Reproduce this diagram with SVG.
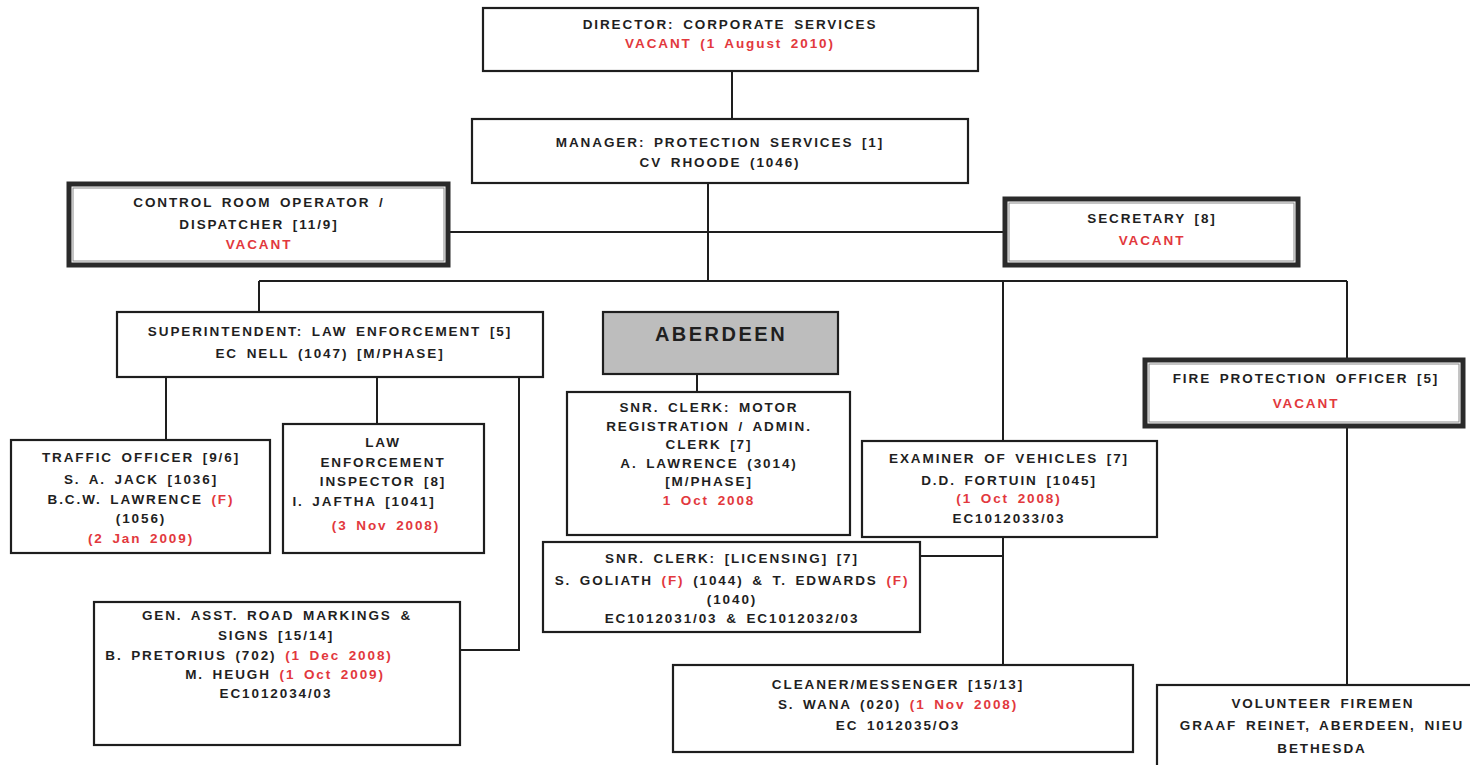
<svg xmlns="http://www.w3.org/2000/svg" width="1470" height="765" viewBox="0 0 1470 765">
  <style>
    .box { fill: #ffffff; stroke: #1e1e1e; stroke-width: 2.2; }
    .heavy { fill: #ffffff; stroke: #2a2a2a; stroke-width: 5; }
    .heavy-in { fill: none; stroke: #8a8a8a; stroke-width: 1; }
    .shade { fill: #bdbdbd; stroke: #1e1e1e; stroke-width: 2.2; }
    .link { fill: none; stroke: #1e1e1e; stroke-width: 2; }
    text { font-family: "Liberation Sans", Arial, sans-serif; font-weight: bold; font-size: 13.5px; fill: #1f1f1f; text-anchor: middle; letter-spacing: 1.9px; word-spacing: 3px; }
    .red { fill: #e2383d; }
    .big { font-size: 20px; letter-spacing: 2.5px; }
  </style>

  <!-- connectors -->
  <g id="connectors">
    <line class="link" x1="732" y1="71" x2="732" y2="119"/>
    <line class="link" x1="708" y1="183" x2="708" y2="281"/>
    <line class="link" x1="450" y1="232" x2="1003" y2="232"/>
    <line class="link" x1="259" y1="281" x2="1347" y2="281"/>
    <line class="link" x1="259" y1="281" x2="259" y2="312"/>
    <line class="link" x1="1003" y1="281" x2="1003" y2="441"/>
    <line class="link" x1="1003" y1="537" x2="1003" y2="665"/>
    <line class="link" x1="920" y1="556" x2="1003" y2="556"/>
    <line class="link" x1="1347" y1="281" x2="1347" y2="358"/>
    <line class="link" x1="1347" y1="428" x2="1347" y2="685"/>
    <line class="link" x1="166" y1="377" x2="166" y2="440"/>
    <line class="link" x1="377" y1="377" x2="377" y2="424"/>
    <polyline class="link" points="519,377 519,650 460,650"/>
    <line class="link" x1="697" y1="374" x2="697" y2="392"/>
  </g>

  <g id="director">
    <rect class="box" x="483" y="8" width="495" height="63"/>
    <text x="730" y="29">DIRECTOR:  CORPORATE  SERVICES</text>
    <text x="730" y="48" class="red">VACANT (1 August 2010)</text>
  </g>

  <g id="manager">
    <rect class="box" x="472" y="119" width="496" height="64"/>
    <text x="720" y="147">MANAGER:  PROTECTION  SERVICES [1]</text>
    <text x="720" y="167">CV RHOODE  (1046)</text>
  </g>

  <g id="control-room">
    <rect class="heavy" x="69" y="184" width="379" height="81"/>
    <rect class="heavy-in" x="73" y="188" width="371" height="73"/>
    <text x="259" y="207">CONTROL  ROOM OPERATOR  /</text>
    <text x="259" y="229">DISPATCHER  [11/9]</text>
    <text x="259" y="249" class="red">VACANT</text>
  </g>

  <g id="secretary">
    <rect class="heavy" x="1005" y="199" width="293" height="66"/>
    <rect class="heavy-in" x="1009" y="203" width="285" height="58"/>
    <text x="1152" y="223">SECRETARY  [8]</text>
    <text x="1152" y="245" class="red">VACANT</text>
  </g>

  <g id="superintendent">
    <rect class="box" x="117" y="312" width="426" height="65"/>
    <text x="330" y="336">SUPERINTENDENT:  LAW  ENFORCEMENT  [5]</text>
    <text x="330" y="358">EC NELL  (1047) [M/PHASE]</text>
  </g>

  <g id="aberdeen">
    <rect class="shade" x="603" y="312" width="235" height="62"/>
    <text x="721" y="341" class="big">ABERDEEN</text>
  </g>

  <g id="fire-protection">
    <rect class="heavy" x="1145" y="360" width="318" height="66"/>
    <rect class="heavy-in" x="1149" y="364" width="310" height="58"/>
    <text x="1306" y="383">FIRE  PROTECTION  OFFICER  [5]</text>
    <text x="1306" y="408" class="red">VACANT</text>
  </g>

  <g id="traffic-officer">
    <rect class="box" x="11" y="440" width="259" height="113"/>
    <text x="141" y="462">TRAFFIC  OFFICER  [9/6]</text>
    <text x="141" y="484">S. A. JACK [1036]</text>
    <text x="141" y="504">B.C.W. LAWRENCE  <tspan class="red">(F)</tspan></text>
    <text x="141" y="523">(1056)</text>
    <text x="141" y="543" class="red">(2 Jan  2009)</text>
  </g>

  <g id="law-inspector">
    <rect class="box" x="283" y="424" width="201" height="129"/>
    <text x="383" y="447">LAW</text>
    <text x="383" y="467">ENFORCEMENT</text>
    <text x="383" y="486">INSPECTOR  [8]</text>
    <text x="364" y="506">I. JAFTHA  [1041]</text>
    <text x="386" y="530" class="red">(3 Nov 2008)</text>
  </g>

  <g id="snr-clerk-motor">
    <rect class="box" x="567" y="392" width="283" height="143"/>
    <text x="709" y="412">SNR. CLERK:  MOTOR</text>
    <text x="709" y="431">REGISTRATION  / ADMIN.</text>
    <text x="709" y="449">CLERK  [7]</text>
    <text x="709" y="468">A. LAWRENCE  (3014)</text>
    <text x="709" y="486">[M/PHASE]</text>
    <text x="709" y="505" class="red">1 Oct 2008</text>
  </g>

  <g id="examiner">
    <rect class="box" x="862" y="441" width="295" height="96"/>
    <text x="1009" y="463">EXAMINER  OF VEHICLES  [7]</text>
    <text x="1009" y="485">D.D. FORTUIN  [1045]</text>
    <text x="1009" y="503" class="red">(1 Oct 2008)</text>
    <text x="1009" y="523">EC1012033/03</text>
  </g>

  <g id="snr-clerk-licensing">
    <rect class="box" x="543" y="542" width="377" height="90"/>
    <text x="732" y="563">SNR. CLERK:  [LICENSING]  [7]</text>
    <text x="732" y="585">S. GOLIATH  <tspan class="red">(F)</tspan> (1044) &amp; T. EDWARDS  <tspan class="red">(F)</tspan></text>
    <text x="732" y="604">(1040)</text>
    <text x="732" y="623">EC1012031/03 &amp; EC1012032/03</text>
  </g>

  <g id="road-markings">
    <rect class="box" x="94" y="602" width="366" height="143"/>
    <text x="277" y="620">GEN.  ASST. ROAD  MARKINGS  &amp;</text>
    <text x="276" y="640">SIGNS  [15/14]</text>
    <text x="249" y="660">B. PRETORIUS  (702) <tspan class="red">(1 Dec 2008)</tspan></text>
    <text x="285" y="679">M. HEUGH  <tspan class="red">(1 Oct 2009)</tspan></text>
    <text x="276" y="698">EC1012034/03</text>
  </g>

  <g id="cleaner">
    <rect class="box" x="673" y="665" width="460" height="87"/>
    <text x="898" y="689">CLEANER/MESSENGER  [15/13]</text>
    <text x="898" y="709">S. WANA (020) <tspan class="red">(1 Nov 2008)</tspan></text>
    <text x="898" y="730">EC 1012035/O3</text>
  </g>

  <g id="volunteer-firemen">
    <rect class="box" x="1157" y="685" width="320" height="85"/>
    <text x="1323" y="708">VOLUNTEER  FIREMEN</text>
    <text x="1322" y="730">GRAAF  REINET,  ABERDEEN,  NIEU</text>
    <text x="1322" y="753">BETHESDA</text>
  </g>
</svg>
